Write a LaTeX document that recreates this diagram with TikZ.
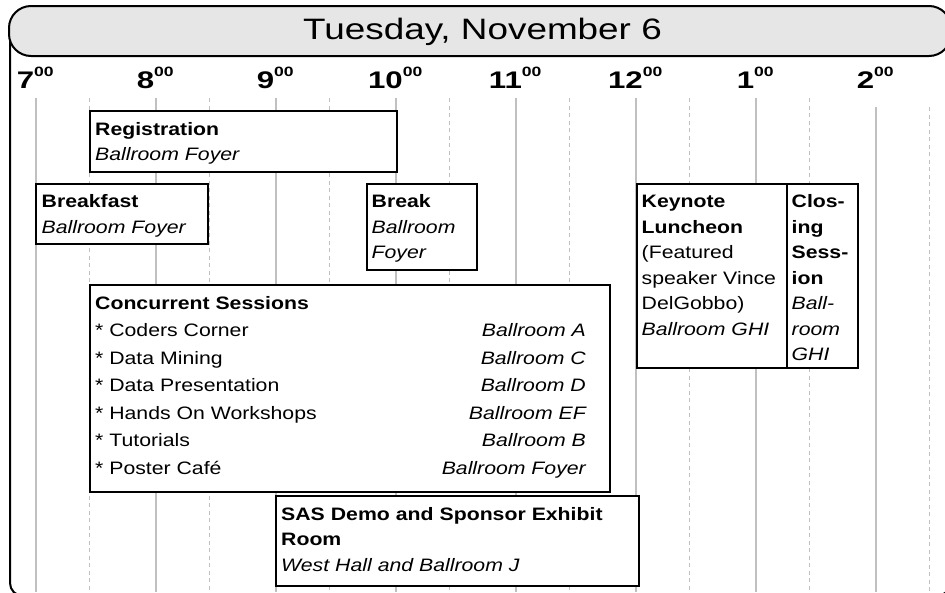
\documentclass[tikz,border=0pt]{standalone}
\usepackage{fontspec}
\setmainfont{Liberation Sans}[FakeStretch=1.18]
\newfontfamily\hourfont{Liberation Sans}[FakeStretch=1.3]
\newfontfamily\titlefont{Liberation Sans}[FakeStretch=1.25]
\definecolor{gridgray}{RGB}{192,192,192}
\definecolor{headgray}{RGB}{230,230,230}
\tikzset{
  hourline/.style={draw=gridgray, line width=2.2pt},
  halfline/.style={draw=gridgray, line width=1.8pt, dash pattern={on 4pt off 3.5pt}},
  evbox/.style={draw, fill=white, line width=1.6pt, inner sep=0pt, anchor=north west},
  evtext/.style={anchor=base west, inner sep=0pt, font=\fontsize{18}{25.5}\selectfont},
  evlines/.style={evtext, align=left, text width=#1},
  roomtext/.style={anchor=base east, inner sep=0pt, font=\fontsize{18}{25.5}\selectfont\itshape},
  hourlabel/.style={anchor=base, inner sep=0pt, font=\hourfont\bfseries\fontsize{24}{24}\selectfont},
}
\newcommand{\hourmark}[1]{#1\raisebox{12pt}{\fontsize{13.5}{13.5}\selectfont 00}}
\begin{document}
\begin{tikzpicture}[x=1pt,y=1pt,yscale=-1,xscale=1]
            \useasboundingbox (0,0) rectangle (945,592);
            \clip (0,0) rectangle (945,592);

            %Shape: Frame
            \draw [line width=2pt, rounded corners=13pt] (10,30) rectangle (950,596);
            %Straight Lines: hour and half hour lines
            \foreach \k/\ystart in {0/98,1/98,2/98,3/98,4/98,5/98,6/98,7/107} {
              \draw [hourline] (35.7+120*\k,\ystart) -- (35.7+120*\k,592);
              \draw [halfline] (89.5+120*\k,\ystart) -- (89.5+120*\k,592);
            }

            %Shape: Header
            \node [draw, fill=headgray, line width=2pt, rounded corners=22pt, inner sep=0pt, anchor=north west, minimum width=942pt, minimum height=50pt] (header) at (8,5) {};
            % Text Node
            \node [anchor=base, inner sep=0pt, font=\titlefont\fontsize{29.5}{29.5}\selectfont] (title) at (482.5,39) {Tuesday, November 6};

            % Text Node: hours
            \foreach \h [count=\k from 0] in {7,8,9,10,11,12,1,2}
              \node [hourlabel] (hour\k) at (35.2+120*\k,88) {\hourmark{\h}};

            %Shape: Registration
            \node [evbox, minimum width=307pt, minimum height=61pt] (reg) at (89,110) {};
            \node [evlines=290pt] (regtxt) at (95,135) {\textbf{Registration}\\\textit{Ballroom Foyer}};

            %Shape: Breakfast
            \node [evbox, minimum width=172pt, minimum height=60pt] (bkf) at (35,183) {};
            \node [evlines=160pt] (bkftxt) at (41.5,207.5) {\textbf{Breakfast}\\\textit{Ballroom Foyer}};

            %Shape: Break
            \node [evbox, minimum width=110pt, minimum height=86pt] (brk) at (366,183) {};
            \node [evlines=100pt] (brktxt) at (371.5,207.5) {\textbf{Break}\\\textit{Ballroom}\\\textit{Foyer}};

            %Shape: Keynote Luncheon
            \node [evbox, minimum width=150pt, minimum height=184pt] (lunch) at (636,183) {};
            \node [evlines=145pt] (lunchtxt) at (641.5,207.5) {\textbf{Keynote}\\\textbf{Luncheon}\\(Featured\\speaker Vince\\DelGobbo)\\\textit{Ballroom GHI}};

            %Shape: Closing Session
            \node [evbox, minimum width=71pt, minimum height=184pt] (close) at (786,183) {};
            \node [evlines=65pt] (closetxt) at (791.5,207.5) {\textbf{Clos-}\\\textbf{ing}\\\textbf{Sess-}\\\textbf{ion}\\\textit{Ball-}\\\textit{room}\\\textit{GHI}};

            %Shape: Concurrent Sessions
            \node [evbox, minimum width=520pt, minimum height=207pt] (conc) at (89,284) {};
            \node [evtext] (conctxt) at (95,309) {\textbf{Concurrent Sessions}};
            \foreach \sess/\room [count=\i] in {Coders Corner/Ballroom A, Data Mining/Ballroom C, Data Presentation/Ballroom D, Hands On Workshops/Ballroom EF, Tutorials/Ballroom B, Poster Café/Ballroom Foyer} {
              \node [evtext] (sess\i) at (95,309+27.5*\i) {* \sess};
              \node [roomtext] (room\i) at (586,309+27.5*\i) {\room};
            }

            %Shape: SAS Demo
            \node [evbox, minimum width=363pt, minimum height=90pt] (demo) at (275,495) {};
            \node [evlines=355pt] (demotxt) at (281,520) {\textbf{SAS Demo and Sponsor Exhibit}\\\textbf{Room}\\\textit{West Hall and Ballroom J}};
\end{tikzpicture}
\end{document}
